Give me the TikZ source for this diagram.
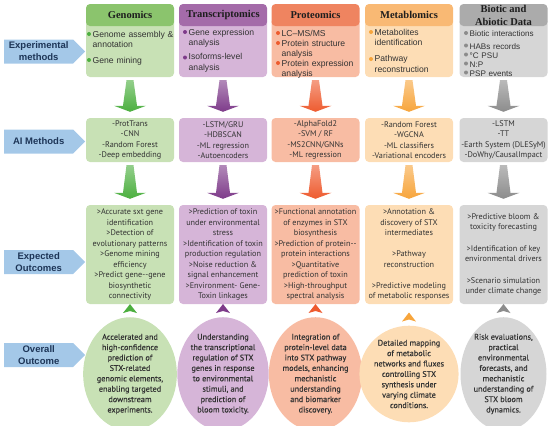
\documentclass[tikz,border=0pt]{standalone}
\usepackage{fontspec}
\setmainfont{Liberation Sans}
\newfontfamily\hdrfont{Liberation Serif}
\newfontfamily\myfont{PT Sans}
\newfontfamily\circfont[FakeBold=0.4]{PT Sans}
\usetikzlibrary{shapes.geometric, shapes.symbols, calc}

\definecolor{lblblue}{HTML}{A4C8E8}
\definecolor{lbltext}{HTML}{1D3557}
\definecolor{hdrtext}{HTML}{1E1E1E}
\definecolor{bodytext}{HTML}{333333}
\definecolor{genH}{HTML}{8BC46D}
\definecolor{genL}{HTML}{C8E1B5}
\definecolor{genA}{HTML}{4CAF3F}
\definecolor{traH}{HTML}{A46BA9}
\definecolor{traL}{HTML}{D6B5D8}
\definecolor{traA}{HTML}{7E3B8A}
\definecolor{proH}{HTML}{EF8460}
\definecolor{proL}{HTML}{F8BCA3}
\definecolor{proA}{HTML}{EE5B2F}
\definecolor{metH}{HTML}{F9B974}
\definecolor{metL}{HTML}{FDDDB5}
\definecolor{metA}{HTML}{F7A53C}
\definecolor{bioH}{HTML}{ABABAB}
\definecolor{bioL}{HTML}{D6D6D6}
\definecolor{bioA}{HTML}{8C8C8C}

% tapered down arrow between two boxes of a column
\newcommand\colarrow[3]{%
\shade[top color=#3!60, bottom color=#3] ($(#1.south)+(-3.5,3)$) -- ($(#1.south)+(3.5,3)$) -- ($(#2.north)+(7,-12)$) -- ($(#2.north)+(16,-12)$) -- ($(#2.north)+(0,-6)$) -- ($(#2.north)+(-16,-12)$) -- ($(#2.north)+(-7,-12)$) -- cycle;}

\begin{document}
\begin{tikzpicture}[x=1pt, y=-1pt,
  rowlabel/.style={signal, signal to=east, signal pointer angle=90, fill=lblblue, minimum width=81pt, minimum height=24pt, inner sep=1pt, align=center, text=lbltext, font=\bfseries\fontsize{9.5}{12}\selectfont},
  hdr/.style={rectangle, rounded corners=4pt, minimum width=88pt, minimum height=22pt, inner sep=0pt, align=center, text=hdrtext, font=\hdrfont\bfseries\fontsize{10.5}{13}\selectfont},
  panel/.style={rectangle, rounded corners=4pt, minimum width=88pt, minimum height=59pt, inner sep=0pt},
  blist/.style={anchor=north west, inner sep=0pt, text width=82pt, align=left, text=bodytext, font=\fontsize{8.6}{10}\selectfont},
  aibox/.style={rectangle, rounded corners=4pt, minimum width=88pt, minimum height=44pt, inner sep=0pt, align=center, text=bodytext, font=\myfont\fontsize{8.2}{10.3}\selectfont},
  outbox/.style={aibox, minimum height=99pt, font=\myfont\fontsize{8.2}{10.5}\selectfont},
  resnode/.style={ellipse, minimum width=86pt, minimum height=96pt, inner sep=0pt, align=center, text=bodytext, font=\circfont\fontsize{8.2}{10.4}\selectfont}]
\useasboundingbox (0,0) rectangle (550,426);

% row labels
\node[rowlabel, anchor=west] (lbl-exp) at (4,51.5) {Experimental\\methods};
\node[rowlabel, anchor=west] (lbl-ai) at (4,141.5) {AI Methods};
\node[rowlabel, anchor=west] (lbl-out) at (4,262) {Expected\\Outcomes};
\node[rowlabel, anchor=west] (lbl-res) at (4,355) {Overall\\Outcome};

% experimental methods
\node[panel, fill=genL] (gen-body) at (130,47.5) {};
\node[panel, fill=traL] (tra-body) at (223,47.5) {};
\node[panel, fill=proL] (pro-body) at (315.5,47.5) {};
\node[panel, fill=metL] (met-body) at (409,47.5) {};
\node[panel, fill=bioL] (bio-body) at (503.5,47.5) {};
\node[hdr, fill=genH] (gen-hdr) at (130,15) {Genomics};
\node[hdr, fill=traH] (tra-hdr) at (223,15) {Transcriptomics};
\node[hdr, fill=proH] (pro-hdr) at (315.5,15) {Proteomics};
\node[hdr, fill=metH] (met-hdr) at (409,15) {Metablomics};
\node[hdr, fill=bioH] (bio-hdr) at (503.5,15) {Biotic and\\Abiotic Data};

\node[blist] (gen-list) at (92.5,31) {Genome assembly \&\\annotation\\[6pt]Gene mining};
\node[blist, font=\fontsize{8.6}{10.5}\selectfont] (tra-list) at (188.5,29) {Gene expression\\analysis\\[3.5pt]Isoforms-level\\analysis};
\node[blist] (pro-list) at (281.5,30) {LC--MS/MS\\Protein structure\\analysis\\Protein expression\\analysis};
\node[blist, font=\fontsize{8.6}{10.5}\selectfont] (met-list) at (374.5,29) {Metabolites\\identification\\[5.5pt]Pathway\\reconstruction};
\node[blist, font=\fontsize{8.1}{9.1}\selectfont] (bio-list) at (469.5,30.5) {Biotic interactions\\[3.5pt]HABs records\\°C PSU\\N:P\\PSP events};

% bullets
\foreach \x/\y/\clr in {89/34/genA, 89/60/genA, 185/32/traA, 185/57.5/traA, 278/33/proA, 278/43/proA, 278/63/proA, 371/32/metA, 371/59/metA, 466/33/bioA, 466/45.5/bioA, 466/54.5/bioA, 466/63.5/bioA, 466/72.5/bioA}
  \fill[\clr] (\x,\y) circle (2pt);

% AI methods
\node[aibox, fill=genL] (gen-ai) at (130,140) {-ProtTrans\\-CNN\\-Random Forest\\-Deep embedding};
\node[aibox, fill=traL] (tra-ai) at (223,140) {-LSTM/GRU\\-HDBSCAN\\-ML regression\\-Autoencoders};
\node[aibox, fill=proL] (pro-ai) at (315.5,140) {-AlphaFold2\\-SVM / RF\\-MS2CNN/GNNs\\-ML regression};
\node[aibox, fill=metL] (met-ai) at (409,140) {-Random Forest\\-WGCNA\\-ML classifiers\\-Variational encoders};
\node[aibox, fill=bioL] (bio-ai) at (503.5,140) {-LSTM\\-TT\\-Earth System (DLESyM)\\-DoWhy/CausalImpact};

% expected outcomes
\node[outbox, fill=genL] (gen-out) at (130,254.5) {>Accurate sxt gene\\identification\\>Detection of\\evolutionary patterns\\>Genome mining\\efficiency\\>Predict gene--gene\\biosynthetic\\connectivity};
\node[outbox, fill=traL] (tra-out) at (223,254.5) {>Prediction of toxin\\under environmental\\stress\\>Identification of toxin\\production regulation\\>Noise reduction \&\\signal enhancement\\>Environment- Gene-\\Toxin linkages};
\node[outbox, fill=proL] (pro-out) at (315.5,254.5) {>Functional annotation\\of enzymes in STX\\biosynthesis\\>Prediction of protein--\\protein interactions\\>Quantitative\\prediction of toxin\\>High-throughput\\spectral analysis};
\node[outbox, fill=metL] (met-out) at (409,254.5) {>Annotation \&\\discovery of STX\\intermediates\\[10.5pt]>Pathway\\reconstruction\\[10.5pt]>Predictive modeling\\of metabolic responses};
\node[outbox, fill=bioL] (bio-out) at (503.5,254.5) {>Predictive bloom \&\\toxicity forecasting\\[11pt]>Identification of key\\environmental drivers\\[11pt]>Scenario simulation\\under climate change};

% overall outcome
\node[resnode, fill=genL] (gen-res) at (130,374) {Accelerated and\\high-confidence\\prediction of\\STX-related\\genomic elements,\\enabling targeted\\downstream\\experiments.};
\node[resnode, fill=traL] (tra-res) at (223,374) {Understanding\\the transcriptional\\regulation of STX\\genes in response\\to environmental\\stimuli, and\\prediction of\\bloom toxicity.};
\node[resnode, fill=proL] (pro-res) at (315.5,374) {Integration of\\protein-level data\\into STX pathway\\models, enhancing\\mechanistic\\understanding\\and biomarker\\discovery.};
\node[resnode, fill=metL] (met-res) at (409,374) {Detailed mapping\\of metabolic\\networks and fluxes\\controlling STX\\synthesis under\\varying climate\\conditions.};
\node[resnode, fill=bioL] (bio-res) at (503.5,374) {Risk evaluations,\\practical\\environmental\\forecasts, and\\mechanistic\\understanding of\\STX bloom\\dynamics.};

% arrows
\foreach \c/\ca in {gen/genA, tra/traA, pro/proA, met/metA, bio/bioA} {
  \colarrow{\c-body}{\c-ai}{\ca}
  \colarrow{\c-ai}{\c-out}{\ca}
  \fill[\ca] ($(\c-res.north)+(0,-13)$) -- ($(\c-res.north)+(7,-4)$) -- ($(\c-res.north)+(0,-6)$) -- ($(\c-res.north)+(-7,-4)$) -- cycle;
}
\end{tikzpicture}
\end{document}
